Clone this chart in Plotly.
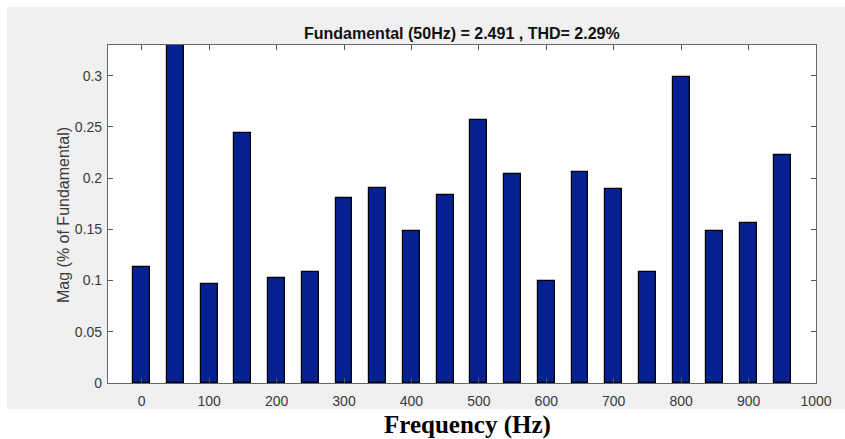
import plotly.graph_objects as go

freqs = [0, 50, 100, 150, 200, 250, 300, 350, 400, 450, 500, 550, 600, 650, 700, 750, 800, 850, 900, 950]
mags = [0.113, 100.0, 0.097, 0.244, 0.103, 0.108, 0.181, 0.190, 0.148, 0.184, 0.257,
        0.204, 0.100, 0.206, 0.189, 0.108, 0.299, 0.148, 0.156, 0.223]
xticks = [0, 100, 200, 300, 400, 500, 600, 700, 800, 900, 1000]
yticks = [0, 0.05, 0.1, 0.15, 0.2, 0.25, 0.3]
ytick_text = ["0", "0.05", "0.1", "0.15", "0.2", "0.25", "0.3"]
title_text = "Fundamental (50Hz) = 2.491 , THD= 2.29%"

W, H = 845, 439
L, R, T, B = 108, 816, 45, 383  # plot area pixels
pw, ph = R - L, B - T

def px(x):
    return (x - L) / pw

def py(y):
    return (B - y) / ph

fig = go.Figure()
fig.add_trace(go.Bar(
    x=freqs, y=mags, width=25,
    marker=dict(color="#04218f", line=dict(color="#000000", width=1.2)),
    cliponaxis=True,
))

axis_common = dict(
    showgrid=False, zeroline=False, showline=True, linecolor="#666666", linewidth=1.2,
    mirror="ticks", ticks="inside", ticklen=5, tickcolor="#555555", tickwidth=1,
    tickfont=dict(family="Liberation Sans, Arial, sans-serif", size=14, color="#3a3a3a"),
)

fig.update_layout(
    width=W, height=H,
    margin=dict(l=L, r=W - R, t=T, b=H - B, pad=0),
    paper_bgcolor="#ffffff",
    plot_bgcolor="#ffffff",
    showlegend=False,
    bargap=0,
    xaxis=dict(range=[-50, 1000], tickvals=xticks, ticktext=[str(v) for v in xticks],
               ticklabelstandoff=5, **axis_common),
    yaxis=dict(range=[0, 0.33], tickvals=yticks, ticktext=ytick_text,
               ticklabelstandoff=2, **axis_common),
    shapes=[
        dict(type="rect", xref="paper", yref="paper", x0=px(7), x1=px(845), y0=py(409), y1=py(7),
             fillcolor="#f0f0f0", line=dict(width=0), layer="below"),
        dict(type="rect", xref="paper", yref="paper", x0=0, x1=1, y0=0, y1=1,
             fillcolor="#ffffff", line=dict(width=0), layer="below"),
    ],
    annotations=[
        dict(text=title_text, xref="paper", yref="paper", x=0.5, y=py(33), showarrow=False,
             xanchor="center", yanchor="middle",
             font=dict(family="Liberation Sans, Arial, sans-serif", size=16, color="#111111", weight="bold")),
        dict(text="Mag (% of Fundamental)", xref="paper", yref="paper", x=px(63), y=py(215),
             showarrow=False, textangle=-90, xanchor="center", yanchor="middle",
             font=dict(family="Liberation Sans, Arial, sans-serif", size=16, color="#3a3a3a")),
        dict(text="<b>Frequency (Hz)</b>", xref="paper", yref="paper", x=px(467), y=py(425),
             showarrow=False, xanchor="center", yanchor="middle",
             font=dict(family="Liberation Serif, Times New Roman, serif", size=25, color="#000000")),
    ],
)

fig.write_html("out.html", config={"displayModeBar": False},
               post_script="document.body.style.margin='0';document.body.style.overflow='hidden';")
